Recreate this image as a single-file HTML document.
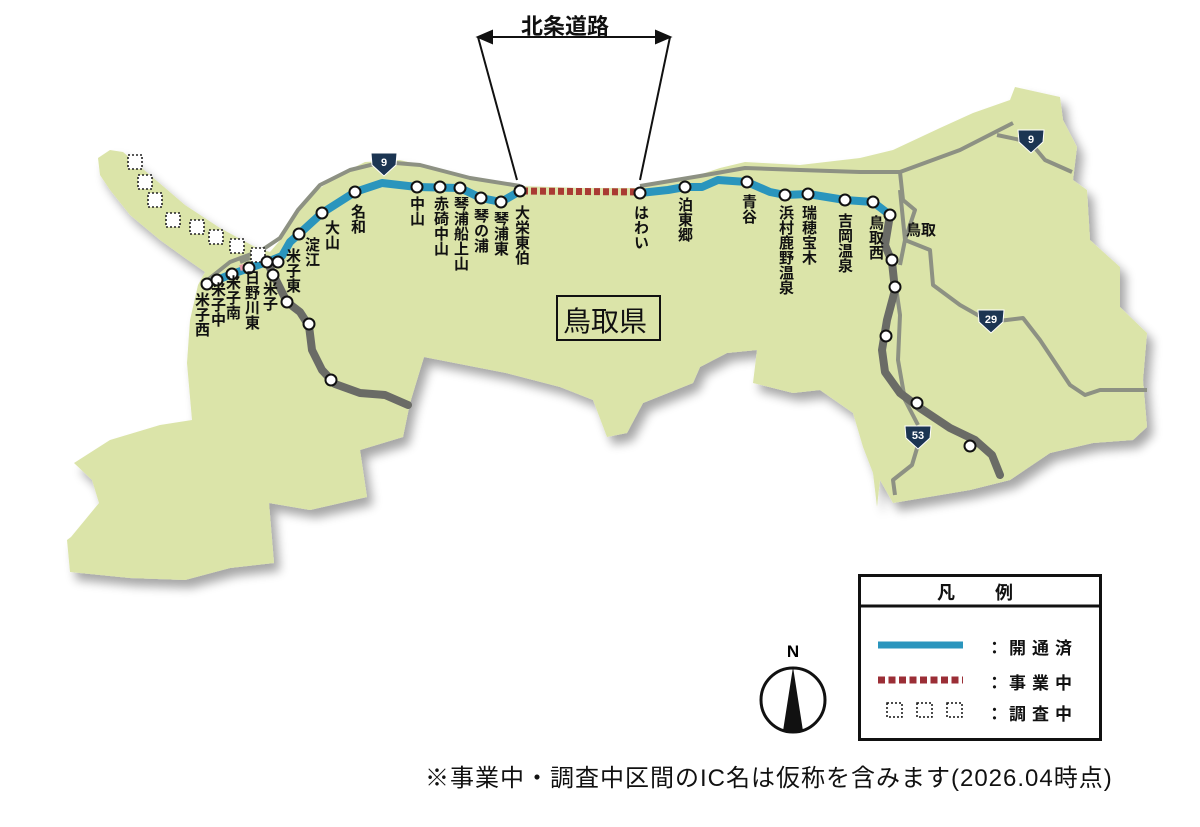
<!DOCTYPE html>
<html><head><meta charset="utf-8"><style>
html,body{margin:0;padding:0;background:#fff;}
body{width:1200px;height:827px;position:relative;overflow:hidden;font-family:"Liberation Sans","Noto Sans CJK JP",sans-serif;}
.v{position:absolute;writing-mode:vertical-rl;font-size:15px;font-weight:bold;line-height:16px;letter-spacing:0;color:#111;}
.t{position:absolute;font-weight:bold;color:#111;white-space:nowrap;}
</style></head><body>
<svg width="1200" height="827" style="position:absolute;left:0;top:0">
<defs>
<filter id="sh" x="-10%" y="-10%" width="130%" height="130%"><feGaussianBlur in="SourceAlpha" stdDeviation="5"/><feOffset dx="6" dy="8"/><feComponentTransfer><feFuncA type="linear" slope="0.35"/></feComponentTransfer><feMerge><feMergeNode/><feMergeNode in="SourceGraphic"/></feMerge></filter>
</defs>
<g filter="url(#sh)">
<path fill="#dbe4a9" d="M98,158 L110,150 L123,152 L150,175 L185,205 L220,228 L257,248 L270,252 L282,238 L300,205 L320,188 L345,172 L365,162 L400,160 L440,170 L480,180 L520,186 L580,188 L640,188 L690,178 L720,168 L745,162 L800,165 L860,158 L893,150 L940,128 L973,113 L1010,100 L1015,87 L1060,97 L1063,120 L1077,147 L1073,180 L1087,190 L1090,240 L1120,267 L1120,307 L1147,333 L1143,380 L1147,427 L1133,440 L1093,443 L1050,453 L1010,480 L970,490 L893,503 L880,480 L877,507 L873,473 L863,447 L853,413 L820,390 L793,393 L753,383 L757,350 L727,353 L700,367 L693,383 L643,403 L627,433 L607,437 L593,400 L560,387 L506,373 L424,357 L410,403 L403,437 L360,450 L367,497 L310,510 L269,503 L274,563 L230,568 L185,580 L130,578 L70,572 L67,540 L71,537 L99,503 L92,480 L74,463 L110,440 L160,425 L192,420 L187,363 L190,320 L198,285 L205,272 L185,258 L160,240 L130,215 L110,190 L100,175 Z"/>
</g>
<g fill="none" stroke="#8d9183" stroke-width="4" stroke-linejoin="round">
<path d="M205,282 L230,262 L262,250 L280,238 L298,210 L320,185 L350,170 L383,162 L420,165 L470,178 L520,186"/>
<path d="M640,186 L700,176 L745,168 L800,170 L860,172 L900,172 L960,150 L1013,123"/>
<path d="M997,135 L1030,142 L1045,160 L1072,172"/>
<path d="M900,172 L903,200 L915,210 L905,240 L900,265"/>
<path d="M900,190 L905,240 L930,250 L933,285 L960,305 L990,322 L1023,318 L1040,340 L1070,385 L1085,395 L1100,390 L1147,390"/>
<path d="M895,280 L900,315 L898,360 L905,400 L918,425"/>
<path d="M918,445 L912,465 L893,480 L895,495"/>
<path d="M255,253 L262,262 M240,262 L250,258"/>
</g>
<g fill="none" stroke="#6a6b66" stroke-width="8" stroke-linejoin="round" stroke-linecap="round">
<path d="M270,268 L287,302 L300,312 L309,326 L312,350 L322,370 L335,384 L360,393 L385,395 L408,405"/>
<path d="M890,215 L885,245 L892,262 L895,290 L887,320 L882,350 L885,372 L900,393 L920,408 L950,428 L975,440 L992,455 L1000,475"/>
</g>
<g fill="none" stroke="#2a95bd" stroke-width="8" stroke-linejoin="round" stroke-linecap="round">
<path d="M207,284 L232,274 L267,262 L282,256 L290,242 L299,234 L322,213 L355,192 L382,183 L417,187 L460,188 L481,198 L501,202 L520,191"/>
<path d="M640,193 L668,190 L685,187 L702,187 L718,180 L747,182 L770,192 L785,195 L808,194 L845,200 L873,202 L890,215"/>
</g>
<path d="M240,268 L248,266" stroke="#e79aa8" stroke-width="6"/>
<line x1="522" y1="191" x2="638" y2="192" stroke="#a93a33" stroke-width="7" stroke-dasharray="6,3"/>
<g fill="#fff" stroke="#222" stroke-width="1.6" stroke-dasharray="2,2">
<rect x="128" y="155" width="14" height="14"/><rect x="138" y="175" width="14" height="14"/><rect x="148" y="193" width="14" height="14"/><rect x="166" y="213" width="14" height="14"/><rect x="190" y="220" width="14" height="14"/><rect x="209" y="230" width="14" height="14"/><rect x="230" y="239" width="14" height="14"/><rect x="251" y="248" width="14" height="14"/>
</g>
<g fill="#fff" stroke="#111" stroke-width="2">
<circle cx="207" cy="284" r="5.5"/><circle cx="217" cy="280" r="5.5"/><circle cx="232" cy="274" r="5.5"/><circle cx="249" cy="268" r="5.5"/><circle cx="267" cy="262" r="5.5"/><circle cx="278" cy="262" r="5.5"/><circle cx="273" cy="275" r="5.5"/><circle cx="287" cy="302" r="5.5"/><circle cx="309" cy="324" r="5.5"/><circle cx="331" cy="380" r="5.5"/><circle cx="299" cy="234" r="5.5"/><circle cx="322" cy="213" r="5.5"/><circle cx="355" cy="192" r="5.5"/><circle cx="417" cy="187" r="5.5"/><circle cx="440" cy="187" r="5.5"/><circle cx="460" cy="188" r="5.5"/><circle cx="481" cy="198" r="5.5"/><circle cx="501" cy="202" r="5.5"/><circle cx="520" cy="191" r="5.5"/>
<circle cx="640" cy="193" r="5.5"/><circle cx="685" cy="187" r="5.5"/><circle cx="747" cy="182" r="5.5"/><circle cx="785" cy="195" r="5.5"/><circle cx="808" cy="194" r="5.5"/><circle cx="845" cy="200" r="5.5"/><circle cx="873" cy="202" r="5.5"/><circle cx="890" cy="215" r="5.5"/><circle cx="892" cy="260" r="5.5"/><circle cx="895" cy="287" r="5.5"/><circle cx="886" cy="336" r="5.5"/><circle cx="917" cy="403" r="5.5"/><circle cx="970" cy="446" r="5.5"/>
</g>
<g fill="#1c3552" stroke="#fff" stroke-width="1">
<path d="M371,153 L397,153 L396,165 L384,176 L372,165 Z"/>
<path d="M1018,130 L1044,130 L1043,142 L1031,153 L1019,142 Z"/>
<path d="M978,310 L1004,310 L1003,322 L991,333 L979,322 Z"/>
<path d="M905,426 L931,426 L930,438 L918,449 L906,438 Z"/>
</g>
<g fill="#fff" font-family="Liberation Sans" font-weight="bold" font-size="11" text-anchor="middle">
<text x="384" y="166">9</text><text x="1031" y="143">9</text><text x="991" y="323">29</text><text x="918" y="439">53</text>
</g>
<g stroke="#111" stroke-width="2" fill="#111">
<line x1="478" y1="37" x2="517" y2="180"/><line x1="670" y1="37" x2="640" y2="180"/>
<line x1="488" y1="37" x2="660" y2="37"/>
<path d="M478,37 L492,31 L492,43 Z"/><path d="M670,37 L656,31 L656,43 Z"/>
</g>
<rect x="557" y="296" width="103" height="44" fill="none" stroke="#111" stroke-width="2"/>
<rect x="859.5" y="575.5" width="241" height="164" fill="#fff" stroke="#111" stroke-width="3"/>
<line x1="859" y1="606" x2="1101" y2="606" stroke="#111" stroke-width="3"/>
<line x1="878" y1="645" x2="963" y2="645" stroke="#2a95bd" stroke-width="7"/>
<line x1="878" y1="680" x2="963" y2="680" stroke="#9b2e36" stroke-width="7" stroke-dasharray="7,3.5"/>
<g fill="none" stroke="#111" stroke-width="1.5" stroke-dasharray="2,2">
<rect x="887" y="703" width="15" height="14"/><rect x="917" y="703" width="15" height="14"/><rect x="947" y="703" width="15" height="14"/>
</g>
<circle cx="793" cy="700" r="32" fill="none" stroke="#111" stroke-width="3"/>
<path d="M793,667 L783,731 L803,731 Z" fill="#111"/>
<text x="793" y="657" text-anchor="middle" font-family="Liberation Sans" font-weight="bold" font-size="17">N</text>
</svg>

<div class="t" style="left:521px;top:9px;font-size:22px;">北条道路</div>
<div class="t" style="left:563px;top:300px;font-size:28px;font-weight:normal;">鳥取県</div>

<div class="v" style="left:193px;top:292px;">米子西</div>
<div class="v" style="left:209px;top:282px;">米子中</div>
<div class="v" style="left:224px;top:275px;">米子南</div>
<div class="v" style="left:243px;top:270px;">日野川東</div>
<div class="v" style="left:261px;top:281px;">米子</div>
<div class="v" style="left:284px;top:248px;">米子東</div>
<div class="v" style="left:303px;top:237px;">淀江</div>
<div class="v" style="left:323px;top:220px;">大山</div>
<div class="v" style="left:349px;top:204px;">名和</div>
<div class="v" style="left:408px;top:196px;">中山</div>
<div class="v" style="left:432px;top:196px;">赤碕中山</div>
<div class="v" style="left:452px;top:196px;">琴浦船上山</div>
<div class="v" style="left:472px;top:208px;">琴の浦</div>
<div class="v" style="left:492px;top:211px;">琴浦東</div>
<div class="v" style="left:513px;top:205px;">大栄東伯</div>
<div class="v" style="left:632px;top:205px;">はわい</div>
<div class="v" style="left:676px;top:197px;">泊東郷</div>
<div class="v" style="left:740px;top:194px;">青谷</div>
<div class="v" style="left:777px;top:205px;">浜村鹿野温泉</div>
<div class="v" style="left:800px;top:205px;">瑞穂宝木</div>
<div class="v" style="left:836px;top:213px;">吉岡温泉</div>
<div class="v" style="left:867px;top:215px;">鳥取西</div>
<div class="t" style="left:906px;top:219px;font-size:15px;">鳥取</div>

<div class="t" style="left:937px;top:579px;font-size:18px;letter-spacing:40px;">凡例</div>
<div class="t" style="left:986px;top:634px;font-size:17px;letter-spacing:6px;">：開通済</div>
<div class="t" style="left:986px;top:669px;font-size:17px;letter-spacing:6px;">：事業中</div>
<div class="t" style="left:986px;top:700px;font-size:17px;letter-spacing:6px;">：調査中</div>

<div class="t" style="left:425px;top:758px;font-size:24px;font-weight:normal;letter-spacing:1px;">※事業中・調査中区間のIC名は仮称を含みます(2026.04時点)</div>
</body></html>
